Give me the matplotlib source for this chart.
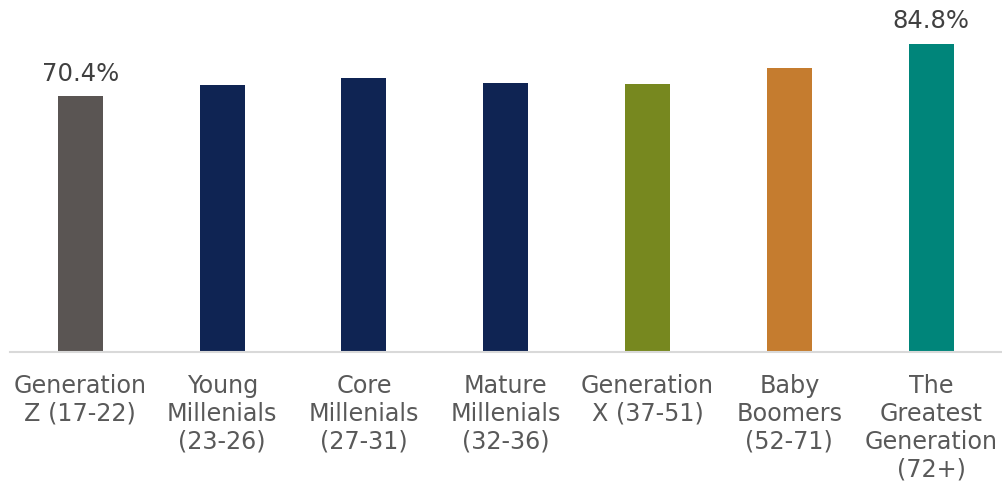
import matplotlib
matplotlib.use("Agg")
import matplotlib.pyplot as plt

# Share of each generation (percent)
categories = [
    "Generation\nZ (17-22)",
    "Young\nMillenials\n(23-26)",
    "Core\nMillenials\n(27-31)",
    "Mature\nMillenials\n(32-36)",
    "Generation\nX (37-51)",
    "Baby\nBoomers\n(52-71)",
    "The\nGreatest\nGeneration\n(72+)",
]
values = [70.4, 73.5, 75.4, 74.0, 73.8, 78.2, 84.8]
bar_colors = ["#5A5553", "#0F2453", "#0F2453", "#0F2453", "#77881F", "#C57C2F", "#00857A"]
# Only these bars carry a value label
labelled = {0: "70.4%", 6: "84.8%"}

plt.rcParams["font.family"] = ["DejaVu Sans"]

fig = plt.figure(figsize=(10.02, 4.89), dpi=100)
ax = fig.add_axes([9.5 / 1002, (489 - 353) / 489, 1 - 9.5 / 1002, 353 / 489])

x = range(len(values))
bars = ax.bar(x, values, width=0.317, color=bar_colors, zorder=2)

ax.set_xlim(-0.5, 6.5)
ax.set_ylim(0, 353 / 3.632)

for i, text in labelled.items():
    ax.annotate(text, (i, values[i]), xytext=(0, 12), textcoords="offset points",
                ha="center", va="baseline", fontsize=17.5, color="#404040")

ax.set_xticks(list(x))
ax.set_xticklabels(categories, fontsize=17.2, color="#595959", linespacing=1.21)
ax.tick_params(axis="x", length=0, pad=15)
ax.set_yticks([])

for side in ("top", "right", "left"):
    ax.spines[side].set_visible(False)
ax.spines["bottom"].set_color("#D9D9D9")
ax.spines["bottom"].set_linewidth(1.5)
ax.spines["bottom"].set_zorder(3)

fig.savefig("out.png", dpi=100)
